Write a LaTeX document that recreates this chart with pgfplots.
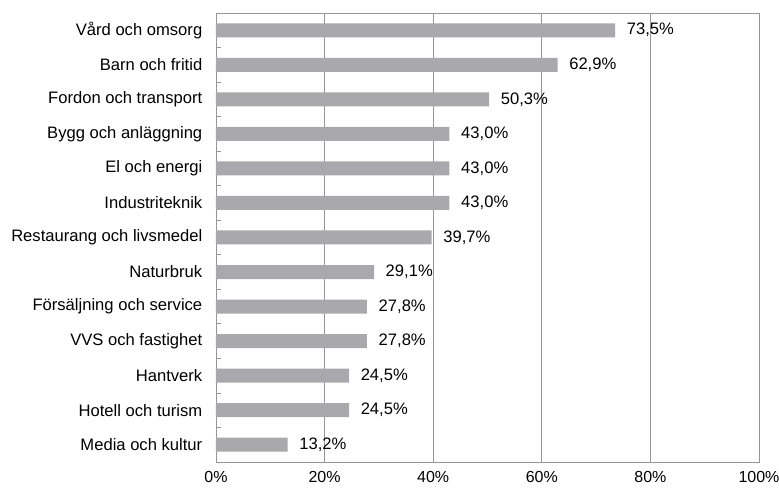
\documentclass[border=0pt]{standalone}
\usepackage{pgfplots}
\pgfplotsset{compat=1.18}
\usepackage{fontspec}
\setmainfont{Liberation Sans}
\definecolor{barc}{RGB}{169,169,173}
\definecolor{gridc}{RGB}{150,150,150}
\pgfplotstableread{
y v
0 13.2
1 24.5
2 24.5
3 27.8
4 27.8
5 29.1
6 39.7
7 43.0
8 43.0
9 43.0
10 50.3
11 62.9
12 73.5
}\datatab
\begin{document}
\fontsize{16.6}{20}\selectfont
\begin{tikzpicture}
\begin{axis}[
  at={(0pt,0pt)}, anchor=south west,
  scale only axis, width=543pt, height=449pt,
  xmin=0, xmax=100, ymin=-0.5, ymax=12.5,
  xbar, bar width=14pt,
  axis line style={gridc, line width=0.9pt},
  xtick={0,20,40,60,80,100},
  xticklabels={0\%,20\%,40\%,60\%,80\%,100\%},
  xmajorgrids, grid style={gridc, line width=0.9pt},
  major tick length=0pt,
  xtick style={draw=none},
  ytick pos=left,
  ytick={0,...,12},
  yticklabels={Media och kultur,Hotell och turism,Hantverk,VVS och fastighet,Försäljning och service,Naturbruk,Restaurang och livsmedel,Industriteknik,El och energi,Bygg och anläggning,Fordon och transport,Barn och fritid,Vård och omsorg},
  minor ytick={-0.5,0.5,...,12.5},
  minor tick length=5pt,
  tick align=inside,
  minor y tick style={gridc, line width=0.8pt},
  xticklabel style={font=\fontsize{16}{19}\selectfont, yshift=-4pt},
  yticklabel style={font=\fontsize{16.6}{20}\selectfont, anchor=east, xshift=-8pt},
  /pgf/number format/assume math mode=true,
  nodes near coords={\pgfmathprintnumber[fixed,fixed zerofill,precision=1,use comma]{\pgfplotspointmeta}\%},
  nodes near coords style={font=\fontsize{16.6}{20}\selectfont, anchor=west, xshift=6pt, black},
  point meta=explicit,
  clip=false,
]
\addplot[fill=barc, draw=none] table[x=v, y=y, meta=v] {\datatab};
\end{axis}
\pgfresetboundingbox
\useasboundingbox (-216pt,-27pt) rectangle (563pt,462pt);
\end{tikzpicture}
\end{document}
